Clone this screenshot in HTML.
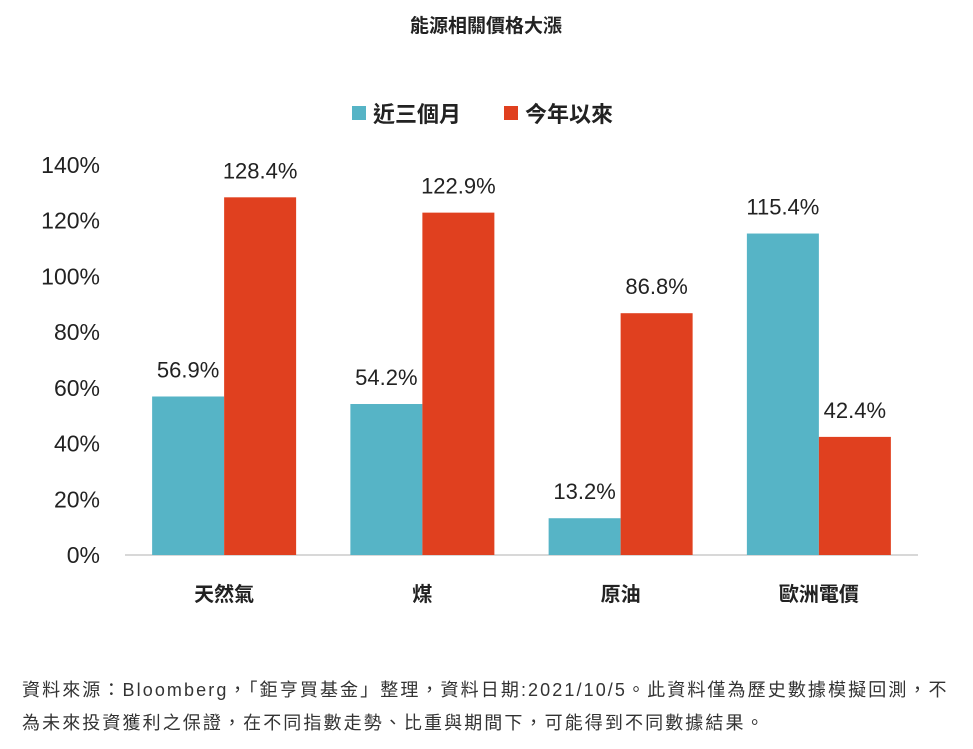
<!DOCTYPE html>
<html><head><meta charset="utf-8">
<style>
body{margin:0;background:#fff;width:973px;height:749px;overflow:hidden;font-family:"Liberation Sans","Noto Sans CJK TC",sans-serif;}
svg text{font-family:"Liberation Sans","Noto Sans CJK TC",sans-serif;}
.note{position:absolute;left:22px;top:674px;width:950px;font-size:18px;letter-spacing:2.1px;line-height:33px;color:#333;white-space:nowrap;}
</style></head>
<body>
<svg id="chart" width="973" height="670" style="position:absolute;left:0;top:0">
<text x="486" y="32" text-anchor="middle" font-size="19" font-weight="bold" fill="#222">能源相關價格大漲</text>
<g>
<rect x="352" y="106" width="14" height="14" fill="#56b4c6"/>
<text x="373" y="122" font-size="22" font-weight="bold" fill="#222">近三個月</text>
<rect x="504" y="106" width="14" height="14" fill="#e0401f"/>
<text x="525" y="122" font-size="22" font-weight="bold" fill="#222">今年以來</text>
</g>
<g id="axis"></g>
<g id="bars"></g>
</svg>
<div class="note">資料來源：Bloomberg，「鉅亨買基金」整理，資料日期:2021/10/5。此資料僅為歷史數據模擬回測，不<br>為未來投資獲利之保證，在不同指數走勢、比重與期間下，可能得到不同數據結果。</div>
<script>
const categories=["天然氣","煤","原油","歐洲電價"];
const threeMonth=[56.9,54.2,13.2,115.4];
const ytd=[128.4,122.9,86.8,42.4];
const yTicks=[0,20,40,60,80,100,120,140];
const NS="http://www.w3.org/2000/svg";
const x0=125,x1=918,y0=555,yTop=165,yMax=140;
const y=v=>y0-(v/yMax)*(y0-yTop);
const band=(x1-x0)/categories.length;
const bx=i=>x0+i*band;
function mk(tag,attrs,parent,txt){const e=document.createElementNS(NS,tag);for(const k in attrs)e.setAttribute(k,attrs[k]);if(txt!==undefined)e.textContent=txt;parent.appendChild(e);return e;}
const ax=document.getElementById('axis'),bars=document.getElementById('bars');
yTicks.forEach(t=>{
  const e=mk('text',{x:100,y:y(t)+8,'text-anchor':'end','font-size':23,fill:'#222'},ax,t+'%');
  
  
});
const base=mk('line',{x1:x0,x2:x1,y1:y0,y2:y0,stroke:'#ccc','stroke-width':1.5},ax);


const bw=72,pad=(band-2*bw)/2;
categories.forEach((c,i)=>{
  const l=mk('text',{x:bx(i)+band/2,y:y0+46,'text-anchor':'middle','font-size':20,'font-weight':'bold',fill:'#222'},ax,c);
  
  
  [[threeMonth,'#56b4c6','3m'],[ytd,'#e0401f','ytd']].forEach((s,j)=>{
    const v=s[0][i],x=bx(i)+pad+j*bw;
    const r=mk('rect',{x:x,y:y(v),width:bw,height:y0-y(v),fill:s[1]},bars);
    
    
    const t=mk('text',{x:x+bw/2,y:y(v)-19,'text-anchor':'middle','font-size':22,fill:'#222'},bars,v.toFixed(1)+'%');
    
    
  });
});
</script>
</body></html>
